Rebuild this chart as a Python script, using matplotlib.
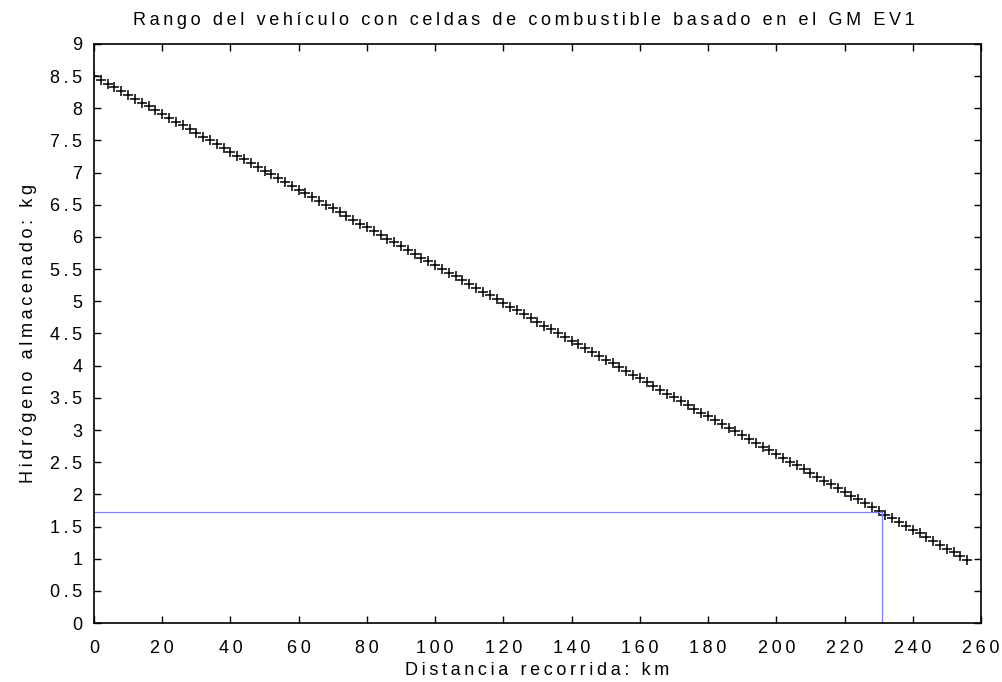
import numpy as np
import matplotlib
matplotlib.use("Agg")
import matplotlib.pyplot as plt

plt.rcParams['font.family'] = ['Liberation Sans', 'DejaVu Sans']

# distance travelled (km), one marker every 2 km
distance_km = np.arange(0, 257, 2)
# stored hydrogen (kg)
hydrogen_kg = [
    8.500, 8.441, 8.383, 8.324, 8.265, 8.206, 8.148, 8.089, 8.030, 7.971,
    7.913, 7.854, 7.795, 7.736, 7.678, 7.619, 7.560, 7.501, 7.443, 7.384,
    7.325, 7.266, 7.208, 7.149, 7.090, 7.032, 6.973, 6.914, 6.855, 6.797,
    6.738, 6.679, 6.620, 6.562, 6.503, 6.444, 6.385, 6.327, 6.268, 6.209,
    6.150, 6.092, 6.033, 5.974, 5.915, 5.857, 5.798, 5.739, 5.680, 5.622,
    5.563, 5.504, 5.446, 5.387, 5.328, 5.269, 5.211, 5.152, 5.093, 5.034,
    4.976, 4.917, 4.858, 4.799, 4.741, 4.682, 4.623, 4.564, 4.506, 4.447,
    4.388, 4.329, 4.271, 4.212, 4.153, 4.095, 4.036, 3.977, 3.918, 3.860,
    3.801, 3.742, 3.683, 3.625, 3.566, 3.507, 3.448, 3.390, 3.331, 3.272,
    3.213, 3.155, 3.096, 3.037, 2.978, 2.920, 2.861, 2.802, 2.743, 2.685,
    2.626, 2.567, 2.509, 2.450, 2.391, 2.332, 2.274, 2.215, 2.156, 2.097,
    2.039, 1.980, 1.921, 1.862, 1.804, 1.745, 1.686, 1.627, 1.569, 1.510,
    1.451, 1.392, 1.334, 1.275, 1.216, 1.158, 1.099, 1.040, 0.981,
]
# reference lines (range marker)
range_x = [0, 231, 231]
range_y = [1.73, 1.73, 0]

x_ticks = list(range(0, 261, 20))
x_tick_labels = [str(v) for v in x_ticks]
y_ticks = [0, 0.5, 1, 1.5, 2, 2.5, 3, 3.5, 4, 4.5, 5, 5.5, 6, 6.5, 7, 7.5, 8, 8.5, 9]
y_tick_labels = ['0', '0.5', '1', '1.5', '2', '2.5', '3', '3.5', '4', '4.5',
                 '5', '5.5', '6', '6.5', '7', '7.5', '8', '8.5', '9']

title = 'Rango del vehículo con celdas de combustible basado en el GM EV1'
xlabel = 'Distancia recorrida: km'
ylabel = 'Hidrógeno almacenado: kg'


def spaced(s):
    # emulate the wide letter spacing of the original rendering
    return '\u2009'.join(s)


fig = plt.figure(figsize=(10.02, 6.82), dpi=100)
ax = fig.add_axes([0.0938, 0.0865, 0.8852, 0.849])

ax.plot(distance_km, hydrogen_kg, linestyle='none', marker='+', color='black',
        markersize=7.5, markeredgewidth=1.1)
ax.plot(range_x, range_y, color='#7f7fff', linewidth=0.9)

ax.set_xlim(0, 260)
ax.set_ylim(0, 9)
ax.set_xticks(x_ticks)
ax.set_xticklabels([spaced(t) for t in x_tick_labels])
ax.set_yticks(y_ticks)
ax.set_yticklabels([spaced(t) for t in y_tick_labels])
ax.tick_params(direction='in', top=True, right=True, length=5, width=1,
               labelsize=13)
ax.tick_params(axis='x', pad=12.5)
ax.tick_params(axis='y', pad=8.5)
for s in ax.spines.values():
    s.set_linewidth(1.2)

ax.set_title(spaced(title), fontsize=13, pad=14, x=0.485)
ax.set_xlabel(spaced(xlabel), fontsize=13, labelpad=3)
ax.set_ylabel(spaced(ylabel), fontsize=13, labelpad=9)

fig.savefig('out.png', dpi=100)
